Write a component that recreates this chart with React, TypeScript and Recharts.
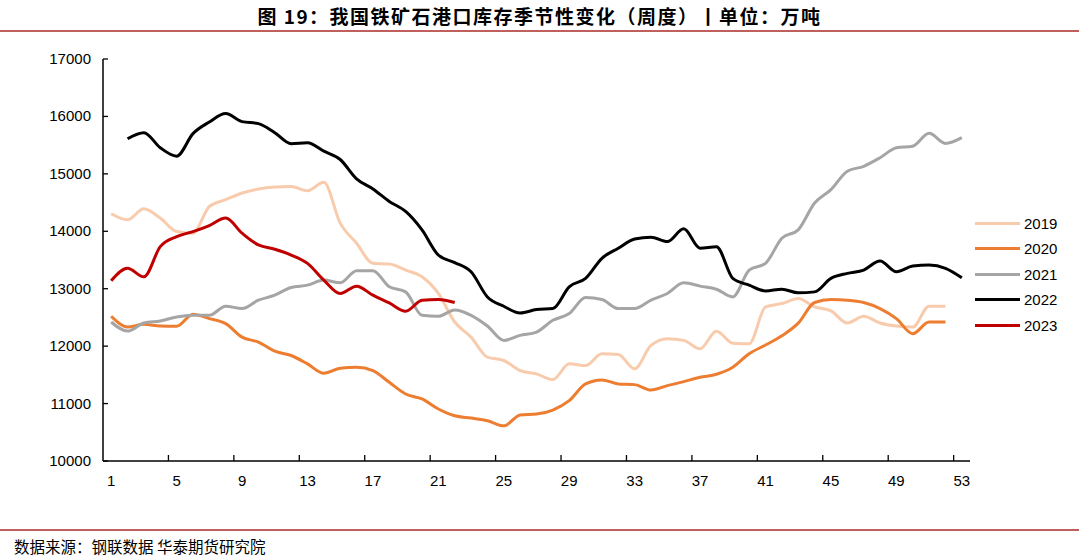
import { LineChart, Line, XAxis, YAxis } from 'recharts';

const WEEKS = [
  1, 2, 3, 4, 5, 6, 7, 8, 9, 10, 11, 12, 13, 14, 15, 16, 17, 18, 19, 20,
  21, 22, 23, 24, 25, 26, 27, 28, 29, 30, 31, 32, 33, 34, 35, 36, 37, 38, 39, 40,
  41, 42, 43, 44, 45, 46, 47, 48, 49, 50, 51, 52, 53,
];

const X_LABELS = [1, 5, 9, 13, 17, 21, 25, 29, 33, 37, 41, 45, 49, 53];
const Y_TICKS = [10000, 11000, 12000, 13000, 14000, 15000, 16000, 17000];

// 万吨, weekly
const S2019 = [
  14305, 14200, 14392, 14230, 13995, 13967, 14432, 14550, 14667, 14737,
  14772, 14782, 14707, 14852, 14142, 13792, 13442, 13430, 13325, 13207,
  12917, 12420, 12157, 11807, 11750, 11575, 11517, 11417, 11692, 11662,
  11867, 11855, 11605, 12012, 12130, 12100, 11955, 12260, 12052, 12040,
  12683, 12742, 12830, 12683, 12613, 12403, 12520, 12403, 12350, 12333,
  12695, 12695,
];
const S2020 = [
  12520, 12333, 12380, 12350, 12345, 12555, 12480, 12392, 12157, 12070,
  11912, 11837, 11692, 11528, 11615, 11633, 11575, 11370, 11167, 11080,
  10905, 10787, 10747, 10700, 10612, 10800, 10817, 10887, 11050, 11342,
  11412, 11342, 11330, 11237, 11312, 11382, 11457, 11510, 11633, 11867,
  12020, 12180, 12400, 12760, 12812, 12800, 12760, 12654, 12480, 12217,
  12420, 12420,
];
const S2021 = [
  12420, 12262, 12403, 12438, 12508, 12537, 12537, 12695, 12654, 12800,
  12887, 13022, 13062, 13150, 13102, 13312, 13312, 13033, 12945, 12537,
  12520, 12630, 12537, 12350, 12100, 12187, 12245, 12450, 12567, 12847,
  12812, 12654, 12654, 12800, 12917, 13102, 13045, 12990, 12857, 13325,
  13442, 13880, 14025, 14492, 14725, 15045, 15132, 15280, 15455, 15482,
  15705, 15530, 15630,
];
const S2022 = [
  null, 15612, 15717, 15455, 15308, 15700, 15903, 16050, 15910, 15875,
  15717, 15525, 15540, 15395, 15250, 14912, 14737, 14520, 14345, 14025,
  13587, 13455, 13295, 12857, 12695, 12578, 12637, 12654, 13033, 13180,
  13530, 13705, 13867, 13897, 13820, 14042, 13705, 13732, 13180, 13062,
  12962, 12992, 12928, 12945, 13180, 13267, 13325, 13482, 13295, 13395,
  13412, 13355, 13190,
];
const S2023 = [
  13137, 13355, 13207, 13732, 13907, 13995, 14100, 14230, 13967, 13762,
  13687, 13587, 13442, 13150, 12917, 13045, 12887, 12752, 12607, 12800,
  12812, 12760,
];

const SERIES = [
  { key: '2019', values: S2019, color: '#F8CBAD' },
  { key: '2020', values: S2020, color: '#ED7D31' },
  { key: '2021', values: S2021, color: '#A5A5A5' },
  { key: '2022', values: S2022, color: '#000000' },
  { key: '2023', values: S2023, color: '#C00000' },
];

const data = WEEKS.map((week, i) => {
  const row: Record<string, number | null> = { week };
  SERIES.forEach((s) => {
    row[s.key] = s.values[i] ?? null;
  });
  return row;
});

// labels sit in the middle of a week, tick marks on the boundaries (excel style)
const X_MARKS = X_LABELS.slice(1).map((w) => w - 0.5);
const X_TICKS = [...X_LABELS, ...X_MARKS].sort((a, b) => a - b);

const FONT = '"Liberation Sans", Arial, sans-serif';
const CJK = '"Noto Sans CJK SC", sans-serif';
const RULE = '#C0605C';

function XTick(props: any) {
  const { x, y, payload } = props;
  const v = payload.value;
  if (!Number.isInteger(v)) {
    return <line x1={x} x2={x} y1={y} y2={y - 6} stroke="#000" strokeWidth={1.3} />;
  }
  return (
    <text x={x} y={y + 25} textAnchor="middle" fontSize={15} fontFamily={FONT} fill="#000">
      {v}
    </text>
  );
}

function YTick(props: any) {
  const { x, y, payload } = props;
  return (
    <g>
      <line x1={x} x2={x + 5} y1={y} y2={y} stroke="#000" strokeWidth={1.3} />
      <text x={x - 12} y={y + 5} textAnchor="end" fontSize={15} fontFamily={FONT} fill="#000">
        {payload.value}
      </text>
    </g>
  );
}

export default function App() {
  return (
    <div style={{ position: 'absolute', left: 0, top: 0, width: 1079, height: 557, background: '#fff' }}>
      <div
        style={{
          position: 'absolute', left: 0, top: 3, width: 1079, textAlign: 'center',
          fontFamily: CJK, fontWeight: 700, fontSize: 19, letterSpacing: 1.5, lineHeight: '26px',
        }}
      >
        图 19：我国铁矿石港口库存季节性变化（周度）丨单位：万吨
      </div>
      <div style={{ position: 'absolute', left: 0, top: 30, width: 1079, height: 2, background: RULE }} />

      <LineChart
        width={1079}
        height={557}
        data={data}
        margin={{ top: 59, right: 109, bottom: 66, left: 43 }}
      >
        <XAxis
          dataKey="week"
          type="number"
          domain={[0.5, 53.5]}
          ticks={X_TICKS}
          interval={0}
          tick={<XTick />}
          tickLine={false}
          tickSize={0}
          tickMargin={0}
          height={30}
          axisLine={{ stroke: '#000', strokeWidth: 1.5 }}
        />
        <YAxis
          type="number"
          domain={[10000, 17000]}
          ticks={Y_TICKS}
          interval={0}
          tick={<YTick />}
          tickLine={false}
          tickSize={0}
          tickMargin={0}
          width={60}
          axisLine={{ stroke: '#000', strokeWidth: 1.5 }}
        />
        {SERIES.map((s) => (
          <Line
            key={s.key}
            dataKey={s.key}
            type="monotone"
            stroke={s.color}
            strokeWidth={3}
            dot={false}
            activeDot={false}
            isAnimationActive={false}
          />
        ))}
      </LineChart>

      {/* legend drawn by hand so it doesn't eat plot space */}
      {SERIES.map((s, i) => (
        <div
          key={s.key}
          style={{
            position: 'absolute', left: 975, top: 213 + i * 25.5, height: 20,
            display: 'flex', alignItems: 'center', fontFamily: FONT, fontSize: 15,
          }}
        >
          <span style={{ width: 45, height: 3, background: s.color, display: 'inline-block', marginRight: 4 }} />
          {s.key}
        </div>
      ))}

      <div style={{ position: 'absolute', left: 0, top: 529, width: 1079, height: 2, background: RULE }} />
      <div
        style={{
          position: 'absolute', left: 14, top: 536, fontFamily: CJK, fontSize: 15.5, lineHeight: '20px',
        }}
      >
        数据来源：钢联数据 华泰期货研究院
      </div>
    </div>
  );
}
